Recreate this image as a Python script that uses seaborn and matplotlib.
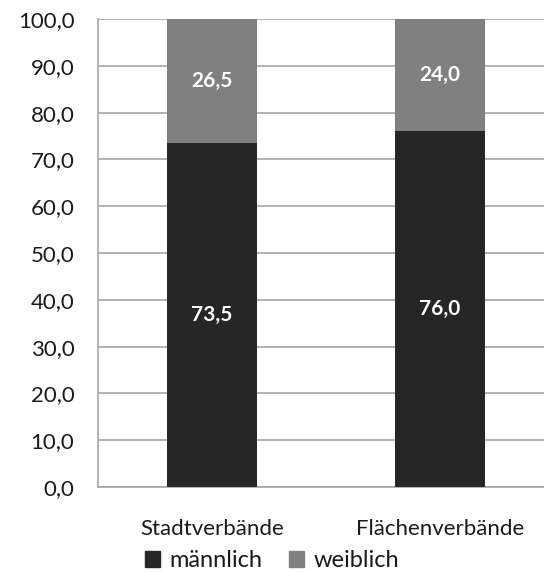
import matplotlib
matplotlib.use("Agg")
import matplotlib.pyplot as plt
import matplotlib.patches as mpatches
from matplotlib.ticker import FixedLocator, FuncFormatter
import pandas as pd
import seaborn as sns

# data
categories = ["Stadtverbände", "Flächenverbände"]
maennlich = [73.5, 76.0]
weiblich = [26.5, 24.0]
series_names = ["männlich", "weiblich"]

dark = "#262626"
grey = "#808080"
grid_col = "#a6a6a6"

sns.set_theme(style="white")
plt.rcParams["font.family"] = ["Lato", "DejaVu Sans"]

df = pd.DataFrame({"cat": categories, "m": maennlich, "w": weiblich})
df["total"] = df["m"] + df["w"]

fig = plt.figure(figsize=(5.44, 5.72), dpi=100)
ax = fig.add_axes([98 / 544, 85 / 572, 456 / 544, 468 / 572])

# stacked bars: draw total in grey, then the male part on top of it
sns.barplot(data=df, x="cat", y="total", color=grey, width=0.395,
            saturation=1, ax=ax, zorder=3, linewidth=0)
sns.barplot(data=df, x="cat", y="m", color=dark, width=0.395,
            saturation=1, ax=ax, zorder=4, linewidth=0)

ax.set_ylim(0, 100)
ax.set_xlim(-0.5, 1.5)
ax.set_yticks(range(0, 101, 10))
ax.yaxis.set_major_formatter(FuncFormatter(lambda v, p: f"{v:.1f}".replace(".", ",")))
ax.grid(axis="y", color=grid_col, linewidth=1.2, zorder=0)
ax.set_axisbelow(True)

for s in ["top", "right"]:
    ax.spines[s].set_visible(False)
for s in ["left", "bottom"]:
    ax.spines[s].set_color(grid_col)
    ax.spines[s].set_linewidth(1.2)

ax.set_xlabel("")
ax.set_ylabel("")
ax.tick_params(axis="y", length=0, pad=17, labelsize=16, labelcolor="#1a1a1a")
ax.tick_params(axis="x", which="major", length=0, pad=23, labelsize=16, labelcolor="#1a1a1a")
ax.xaxis.set_minor_locator(FixedLocator([-0.5, 0.5, 1.5]))
ax.tick_params(axis="x", which="minor", length=9, width=1.2, color=grid_col, direction="out")

# value labels inside the segments
for i in range(len(categories)):
    ax.text(i, maennlich[i] / 2, f"{maennlich[i]:.1f}".replace(".", ","),
            ha="center", va="center", color="white", fontsize=15,
            fontweight="bold", zorder=5)
    ax.text(i, maennlich[i] + weiblich[i] / 2, f"{weiblich[i]:.1f}".replace(".", ","),
            ha="center", va="center", color="white", fontsize=15,
            fontweight="bold", zorder=5)

handles = [mpatches.Patch(color=dark, label=series_names[0]),
           mpatches.Patch(color=grey, label=series_names[1])]
fig.legend(handles=handles, loc="center", bbox_to_anchor=(0.5, 0.02), ncol=2,
           frameon=False, fontsize=17, handlelength=0.65, handleheight=0.65,
           handletextpad=0.4, columnspacing=1.1, labelcolor="#1a1a1a",
           borderpad=0.1)

fig.savefig("out.png", dpi=100)
